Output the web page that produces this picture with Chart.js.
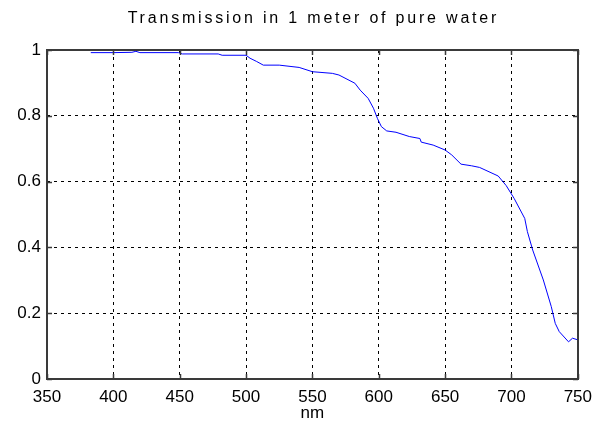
<!DOCTYPE html>
<html>
<head>
<meta charset="utf-8">
<script src="https://cdn.jsdelivr.net/npm/chart.js@4"></script>
<style>
  html, body { margin: 0; padding: 0; background: #fff; }
  #wrap { width: 600px; height: 432px; }
</style>
</head>
<body>
<div id="wrap"><canvas id="waterChart" width="600" height="432"></canvas></div>
<script>
// Transmission of light through 1 m of pure water
const wavelengths = [383, 400, 414, 417, 420, 449, 452, 479, 482, 500, 503, 508, 513, 525, 540,
    550, 565, 570, 582, 586, 592, 596, 599, 602, 606, 613, 623, 631, 632, 641, 650,
    655, 662, 670, 676, 690, 696, 702, 710, 712, 716, 724, 730, 733, 736, 743, 746, 750];
const transmission = [0.992, 0.992, 0.993, 0.996, 0.992, 0.992, 0.988, 0.988, 0.984, 0.984, 0.975, 0.965, 0.954, 0.954, 0.947,
    0.934, 0.929, 0.924, 0.899, 0.878, 0.853, 0.823, 0.792, 0.767, 0.754, 0.750, 0.737, 0.731, 0.720, 0.711, 0.696,
    0.681, 0.653, 0.648, 0.643, 0.617, 0.588, 0.549, 0.488, 0.448, 0.392, 0.301, 0.220, 0.169, 0.144, 0.113, 0.124, 0.119];

const xTicks = [350, 400, 450, 500, 550, 600, 650, 700, 750];
const yTicks = [0, 0.2, 0.4, 0.6, 0.8, 1];

const chartTitle = 'Transmission in 1 meter of pure water';
const xLabel = 'nm';

const FONT = 'Liberation Sans, Arial, sans-serif';

// frame, inward ticks and title, MATLAB style
const matlabFrame = {
    id: 'matlabFrame',
    afterDraw(chart) {
        const { ctx, chartArea: a, scales } = chart;
        const left = Math.round(a.left);
        const right = Math.round(a.right);
        const top = Math.round(a.top);
        const bottom = Math.round(a.bottom);
        ctx.save();
        ctx.strokeStyle = '#3a3a3a';
        ctx.lineWidth = 2;
        ctx.setLineDash([]);
        ctx.beginPath();
        ctx.moveTo(left, top);
        ctx.lineTo(right, top);
        ctx.lineTo(right, bottom);
        ctx.lineTo(left, bottom);
        ctx.closePath();
        ctx.stroke();

        ctx.lineWidth = 1.5;
        ctx.beginPath();
        xTicks.forEach(v => {
            const x = Math.round(scales.x.getPixelForValue(v)) + 0.5;
            ctx.moveTo(x, bottom); ctx.lineTo(x, bottom - 5);
            ctx.moveTo(x, top); ctx.lineTo(x, top + 5);
        });
        yTicks.forEach(v => {
            const y = Math.round(scales.y.getPixelForValue(v)) + 0.5;
            ctx.moveTo(left, y); ctx.lineTo(left + 5, y);
            ctx.moveTo(right, y); ctx.lineTo(right - 5, y);
        });
        ctx.stroke();
        ctx.restore();

        ctx.save();
        ctx.fillStyle = '#000';
        ctx.font = '16px ' + FONT;
        ctx.letterSpacing = '2.8px';
        ctx.textAlign = 'center';
        ctx.textBaseline = 'middle';
        ctx.fillText(chartTitle, (a.left + a.right) / 2 + 1, 19);
        ctx.restore();
    }
};

new Chart(document.getElementById('waterChart'), {
    type: 'line',
    data: {
        datasets: [{
            data: wavelengths.map((w, i) => ({ x: w, y: transmission[i] })),
            borderColor: '#0000ff',
            borderWidth: 1,
            pointRadius: 0,
            tension: 0,
            fill: false
        }]
    },
    options: {
        responsive: false,
        animation: false,
        layout: { padding: { top: 50, right: 22, left: 0, bottom: 8 } },
        plugins: {
            legend: { display: false },
            tooltip: { enabled: false }
        },
        scales: {
            x: {
                type: 'linear',
                min: 350,
                max: 750,
                afterBuildTicks: scale => { scale.ticks = xTicks.map(v => ({ value: v })); },
                afterFit: scale => { scale.height = 45; },
                ticks: {
                    color: '#000',
                    font: { family: FONT, size: 17 },
                    padding: 8,
                    maxRotation: 0,
                    autoSkip: false
                },
                grid: { color: '#000', lineWidth: 1, drawTicks: false },
                border: { display: false, dash: [3, 4] },
                title: {
                    display: true,
                    text: xLabel,
                    color: '#000',
                    font: { family: FONT, size: 17 },
                    padding: { top: 0, bottom: 0 }
                }
            },
            y: {
                type: 'linear',
                min: 0,
                max: 1,
                afterBuildTicks: scale => { scale.ticks = yTicks.map(v => ({ value: v })); },
                afterFit: scale => { scale.width = 47; },
                ticks: {
                    color: '#000',
                    font: { family: FONT, size: 17 },
                    padding: 6,
                    callback: v => String(v)
                },
                grid: { color: '#000', lineWidth: 1, drawTicks: false },
                border: { display: false, dash: [3, 4] }
            }
        }
    },
    plugins: [matlabFrame]
});
</script>
</body>
</html>
